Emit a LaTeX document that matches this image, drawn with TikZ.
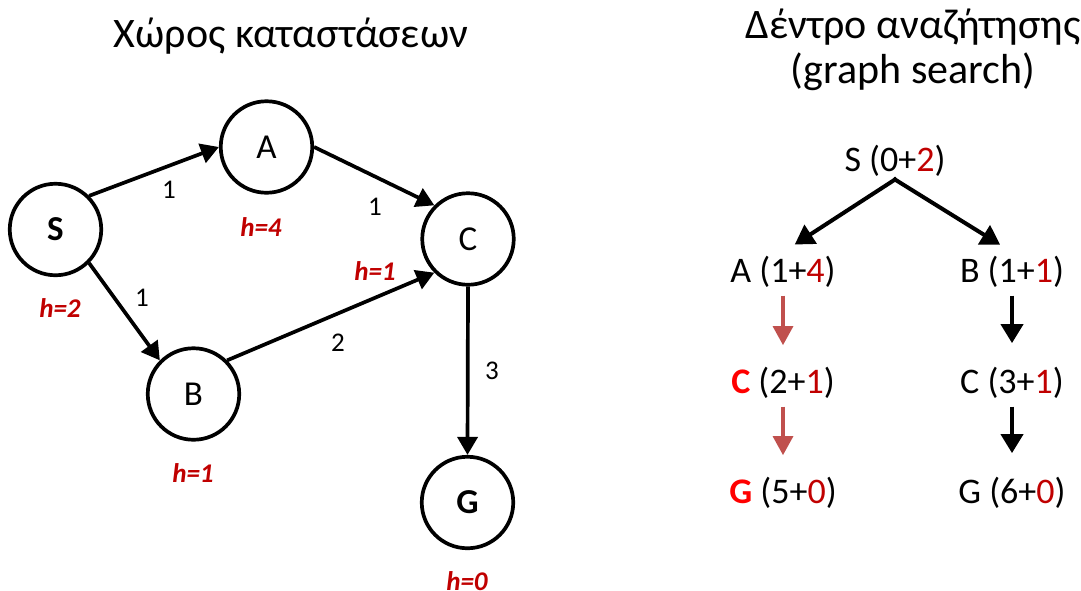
\documentclass[tikz,border=0pt]{standalone}
\usepackage{fontspec}
\setmainfont{Carlito}
\usetikzlibrary{arrows.meta}
\definecolor{hred}{RGB}{192,0,0}
\definecolor{pathred}{RGB}{192,80,77}
\definecolor{brightred}{RGB}{255,0,0}
\newcommand\fsz[1]{\fontsize{#1}{#1}\selectfont}

\begin{document}
\begin{tikzpicture}[x=1pt,y=-1pt,
  state/.style={circle,draw,line width=3.7pt,minimum size=91.5pt,inner sep=0pt,font=\fsz{35}},
  edge/.style={line width=3.7pt,-{Triangle[length=18pt,width=20pt]}},
  cost/.style={font=\fsz{27}},
  heur/.style={font=\fsz{27}\bfseries\itshape,text=hred},
  title/.style={font=\fsz{42},anchor=base},
  tnode/.style={font=\fsz{36},anchor=base},
  tarrow/.style={line width=4pt,-{Triangle[length=19pt,width=22pt]}},
  parrow/.style={line width=3.2pt,draw=pathred,-{Triangle[length=19pt,width=20pt]},color=pathred},
]
\useasboundingbox (0,0) rectangle (1081,590);

% titles
\node[title] (t1) at (291,47) {Χώρος καταστάσεων};
\node[title] (t2) at (913,38) {Δέντρο αναζήτησης};
\node[title] (t3) at (913,83) {(graph search)};

% state space
\node[state] (S) at (55.5,229.5) {\bfseries S};
\node[state] (A) at (266.5,147) {A};
\node[state] (C) at (468,239) {C};
\node[state] (B) at (193.5,394) {B};
\node[state] (G) at (467.5,502.5) {\bfseries G};

\draw[edge] (S.45) -- (A.west);
\draw[edge] (A.east) -- (C.135);
\draw[edge] (S.-45) -- (B.135);
\draw[edge] (B.45) -- (C.225);
\draw[edge] (C.south) -- (G.north);

\node[cost] (w1) at (169,190) {1};
\node[cost] (w2) at (375,207) {1};
\node[cost] (w3) at (142,298) {1};
\node[cost] (w4) at (338,343) {2};
\node[cost] (w5) at (492,371) {3};

\node[heur] (hS) at (60,308) {h=2};
\node[heur] (hA) at (261,227) {h=4};
\node[heur] (hC) at (375,271) {h=1};
\node[heur] (hB) at (193,473) {h=1};
\node[heur] (hG) at (467,581) {h=0};

% search tree
\node[tnode] (tS) at (895,171) {S (0+\textcolor{hred}{2})};
\node[tnode] (tA) at (783,282) {A (1+\textcolor{hred}{4})};
\node[tnode] (tB) at (1012,282) {B (1+\textcolor{hred}{1})};
\node[tnode] (tC1) at (783,393) {\textcolor{brightred}{\bfseries C} (2+\textcolor{hred}{1})};
\node[tnode] (tC2) at (1012,393) {C (3+\textcolor{hred}{1})};
\node[tnode] (tG1) at (783,503) {\textcolor{brightred}{\bfseries G} (5+\textcolor{hred}{0})};
\node[tnode] (tG2) at (1012,503) {G (6+\textcolor{hred}{0})};

\draw[tarrow,shorten <=-2pt,shorten >=14pt] (tS.south) -- (tA.north);
\draw[tarrow,shorten <=-2pt,shorten >=14pt] (tS.south) -- (tB.north);
\draw[parrow,shorten <=5pt,shorten >=18pt] (tA.south) -- (tC1.north);
\draw[parrow,shorten <=5pt,shorten >=18pt] (tC1.south) -- (tG1.north);
\draw[tarrow,shorten <=5pt,shorten >=20pt] (tB.south) -- (tC2.north);
\draw[tarrow,shorten <=5pt,shorten >=20pt] (tC2.south) -- (tG2.north);
\end{tikzpicture}
\end{document}
